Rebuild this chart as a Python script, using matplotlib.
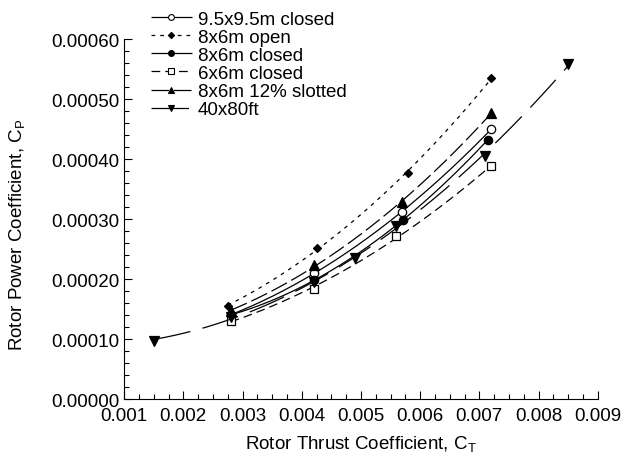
import numpy as np
import matplotlib
matplotlib.use('Agg')
import matplotlib.pyplot as plt
from matplotlib.lines import Line2D
from matplotlib.ticker import MultipleLocator, FormatStrFormatter

plt.rcParams['font.family'] = ['Liberation Sans', 'DejaVu Sans']
plt.rcParams['mathtext.default'] = 'regular'

### DATA ###
labels = ['9.5x9.5m closed', '8x6m open', '8x6m closed', '6x6m closed', '8x6m 12% slotted', '40x80ft']

ct_95 = [0.0028, 0.0042, 0.0057, 0.0072]
cp_95 = [0.000140, 0.000210, 0.000312, 0.000450]

ct_86open = [0.00275, 0.00425, 0.0058, 0.0072]
cp_86open = [0.000155, 0.000252, 0.000377, 0.000535]

ct_86closed = [0.0028, 0.0042, 0.00571, 0.00714]
cp_86closed = [0.000140, 0.000198, 0.000298, 0.000432]

ct_66 = [0.0028, 0.0042, 0.0056, 0.0072]
cp_66 = [0.000130, 0.000183, 0.000272, 0.000388]

ct_slot = [0.0028, 0.0042, 0.0057, 0.0072]
cp_slot = [0.000147, 0.000223, 0.000328, 0.000477]

ct_4080 = [0.0015, 0.0028, 0.0042, 0.0049, 0.0056, 0.0071, 0.0085]
cp_4080 = [0.000097, 0.000137, 0.000195, 0.000235, 0.000288, 0.000405, 0.000558]

### STYLES ###
series = [
    (ct_95, cp_95, 'o', 'white', 6, (0, ())),
    (ct_86open, cp_86open, 'D', 'black', 4.5, (0, (3, 4))),
    (ct_86closed, cp_86closed, 'o', 'black', 6, (0, ())),
    (ct_66, cp_66, 's', 'white', 6, (0, (7, 4))),
    (ct_slot, cp_slot, '^', 'black', 7, (0, (14, 4))),
    (ct_4080, cp_4080, 'v', 'black', 7, (0, (30, 10))),
]

fig = plt.figure(figsize=(6.4, 4.6), dpi=100)
ax = fig.add_axes([0.194, 0.1304, 0.740, 0.7826])

handles = []
for (x, y, mk, mfc, ms, ls), lab in zip(series, labels):
    # fitted quadratic through the measured points
    coef = np.polyfit(x, y, 2)
    xs = np.linspace(min(x), max(x), 200)
    ax.plot(xs, np.polyval(coef, xs), color='black', lw=0.9, linestyle=ls)
    ax.plot(x, y, linestyle='none', marker=mk, ms=ms, mfc=mfc, mec='black', mew=0.9)
    handles.append(Line2D([], [], color='black', lw=0.9, linestyle=ls, marker=mk,
                          ms=ms * 0.7, mfc=mfc, mec='black', mew=0.8))

ax.set_xlim(0.001, 0.009)
ax.set_ylim(0, 0.0006)
ax.xaxis.set_major_locator(MultipleLocator(0.001))
ax.xaxis.set_minor_locator(MultipleLocator(0.00025))
ax.yaxis.set_major_locator(MultipleLocator(0.0001))
ax.yaxis.set_minor_locator(MultipleLocator(0.00002))
ax.xaxis.set_major_formatter(FormatStrFormatter('%.3f'))
ax.yaxis.set_major_formatter(FormatStrFormatter('%.5f'))

ax.spines['top'].set_visible(False)
ax.spines['right'].set_visible(False)
ax.tick_params(which='both', direction='in', labelsize=13.5, width=0.8)
ax.tick_params(which='major', length=6)
ax.tick_params(which='minor', length=3.5)
ax.tick_params(axis='x', which='major', pad=5.5)

ax.set_xlabel('Rotor Thrust Coefficient, C$_T$', fontsize=13.5, labelpad=7)
ax.set_ylabel('Rotor Power Coefficient, C$_P$', fontsize=13.5)
ax.yaxis.set_label_coords(-0.205, 0.458)

fig.legend(handles, labels, loc='upper left', bbox_to_anchor=(0.215, 1.003), frameon=False,
           fontsize=13.5, labelspacing=0.05, handlelength=2.2, handletextpad=0.3,
           borderpad=0.2)

fig.savefig('out.png', dpi=100)
